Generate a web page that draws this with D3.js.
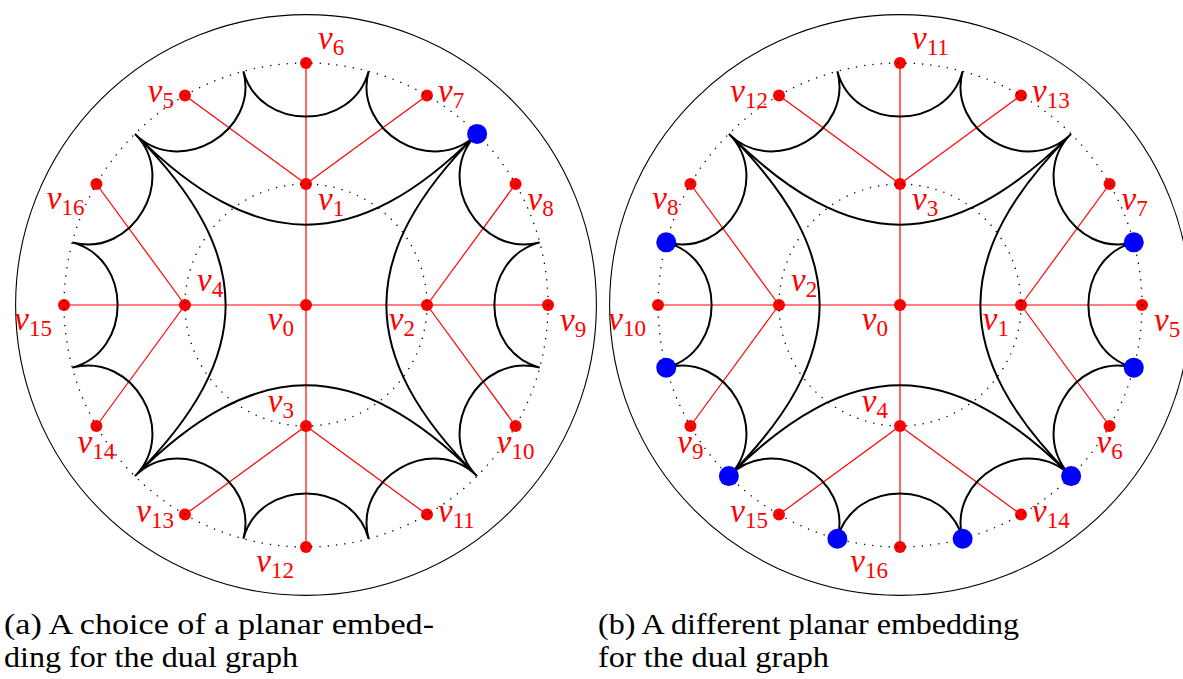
<!DOCTYPE html>
<html>
<head>
<meta charset="utf-8">
<script src="https://cdn.jsdelivr.net/npm/d3@7"></script>
<style>
body { margin: 0; background: #fff; }
svg { display: block; }
</style>
</head>
<body>
<svg width="1183" height="679"></svg>
<script>
// graph layout: hubs on the inner ring, rim nodes on the outer ring, cusps between rim nodes
var hubAngles = [90, 0, 270, 180];
var rimAngles = [0, 30, 60, 90, 120, 150, 180, 210, 240, 270, 300, 330];
var rimHub = [1, 1, 0, 0, 0, 3, 3, 3, 2, 2, 2, 1];
var cuspAngles = [15, 45, 75, 105, 135, 165, 195, 225, 255, 285, 315, 345];
var shortEdges = [[15, 45], [45, 75], [75, 105], [105, 135], [135, 165], [165, 195],
	[195, 225], [225, 255], [255, 285], [285, 315], [315, 345], [345, 15]];
var longEdges = [[45, 135], [135, 225], [225, 315], [315, 45]];

// panel (a)
var hubLabelsA = [1, 2, 3, 4];
var rimLabelsA = [9, 8, 7, 6, 5, 16, 15, 14, 13, 12, 11, 10];
var blueA = [45];
var captionA = ["(a) A choice of a planar embed-", "ding for the dual graph"];

// panel (b)
var hubLabelsB = [3, 1, 4, 2];
var rimLabelsB = [5, 7, 13, 11, 12, 8, 10, 9, 15, 16, 14, 6];
var blueB = [15, 165, 195, 225, 255, 285, 315, 345];
var captionB = ["(b) A different planar embedding", "for the dual graph"];

var svg = d3.select('svg');
var r = d3.scaleLinear().domain([0, 1]).range([0, 242]);
var serif = "'Liberation Serif', 'Times New Roman', Times, 'DejaVu Serif', serif";

// where each label sits around its node
var place = {
	bl: [-12, 25, 'end'], br: [12, 26, 'start'], al: [-12, -14, 'end'], ar: [12, -14, 'start'],
	l: [-11, 7, 'end'], r: [11, 7, 'start'], b: [0, 27, 'middle']
};
var hubPlace = ['br', 'bl', 'al', 'ar'];
var rimPlace = ['br', 'br', 'r', 'ar', 'l', 'bl', 'bl', 'b', 'l', 'bl', 'r', 'b'];

function drawPanel(cx, hubLabels, rimLabels, blue, caption, capLens) {
	var cy = 305;
	var g = svg.append('g');

	function pt(ring, deg) {
		var a = deg * Math.PI / 180;
		return [cx + r(ring) * Math.cos(a), cy - r(ring) * Math.sin(a)];
	}

	g.append('circle').attr('cx', cx).attr('cy', cy).attr('r', r(1.2))
		.attr('fill', 'none').attr('stroke', '#000').attr('stroke-width', 1.1);

	// red tree
	var red = g.append('g').attr('stroke', '#ff0000').attr('stroke-width', 1.2);
	hubAngles.forEach(function(a) {
		var p = pt(0.5, a);
		red.append('line').attr('x1', cx).attr('y1', cy).attr('x2', p[0]).attr('y2', p[1]);
	});
	rimAngles.forEach(function(a, i) {
		var p = pt(1, a), h = pt(0.5, hubAngles[rimHub[i]]);
		red.append('line').attr('x1', h[0]).attr('y1', h[1]).attr('x2', p[0]).attr('y2', p[1]);
	});

	var nodes = [{ p: [cx, cy], lab: 0, pl: 'bl' }];
	hubAngles.forEach(function(a, i) { nodes.push({ p: pt(0.5, a), lab: hubLabels[i], pl: hubPlace[i] }); });
	rimAngles.forEach(function(a, i) { nodes.push({ p: pt(1, a), lab: rimLabels[i], pl: rimPlace[i] }); });

	g.selectAll('circle.node').data(nodes).enter().append('circle')
		.attr('cx', function(d) { return d.p[0]; })
		.attr('cy', function(d) { return d.p[1]; })
		.attr('r', 6).attr('fill', '#ff0000');

	[0.5, 1].forEach(function(ring) {
		g.append('circle').attr('cx', cx).attr('cy', cy).attr('r', r(ring))
			.attr('fill', 'none').attr('stroke', '#000').attr('stroke-width', 1.3)
			.attr('stroke-dasharray', '1.3 7');
	});

	// black curves, leaving each cusp radially inward
	var path = d3.path();
	shortEdges.concat(longEdges).forEach(function(e) {
		var d = Math.abs(e[1] - e[0]);
		if (d > 180) d = 360 - d;
		var chord = 2 * Math.sin(d * Math.PI / 360);
		var c = 1 - 0.5 * chord;
		var p0 = pt(1, e[0]), p1 = pt(c, e[0]), p2 = pt(c, e[1]), p3 = pt(1, e[1]);
		path.moveTo(p0[0], p0[1]);
		path.bezierCurveTo(p1[0], p1[1], p2[0], p2[1], p3[0], p3[1]);
	});
	g.append('path').attr('d', path.toString()).attr('fill', 'none')
		.attr('stroke', '#000').attr('stroke-width', 2);

	g.selectAll('circle.blue').data(blue).enter().append('circle')
		.attr('cx', function(a) { return pt(1, a)[0]; })
		.attr('cy', function(a) { return pt(1, a)[1]; })
		.attr('r', 10).attr('fill', '#0000ff');

	nodes.forEach(function(d) {
		var o = place[d.pl];
		var t = g.append('text').attr('x', d.p[0] + o[0]).attr('y', d.p[1] + o[1])
			.attr('text-anchor', o[2]).attr('fill', '#ff0000')
			.attr('font-family', serif);
		t.append('tspan').text('v').attr('font-style', 'italic').attr('font-size', 33);
		t.append('tspan').text(d.lab).attr('dy', 6).attr('font-size', 23);
	});

	var x0 = cx - 302;
	caption.forEach(function(line, i) {
		g.append('text').attr('x', x0).attr('y', 634 + i * 33)
			.attr('font-family', serif).attr('font-size', 29)
			.attr('fill', '#000').text(line)
			.attr('textLength', capLens[i]).attr('lengthAdjust', 'spacingAndGlyphs');
	});
}

drawPanel(306, hubLabelsA, rimLabelsA, blueA, captionA, [430, 294]);
drawPanel(900, hubLabelsB, rimLabelsB, blueB, captionB, [421, 231]);
</script>
</body>
</html>
